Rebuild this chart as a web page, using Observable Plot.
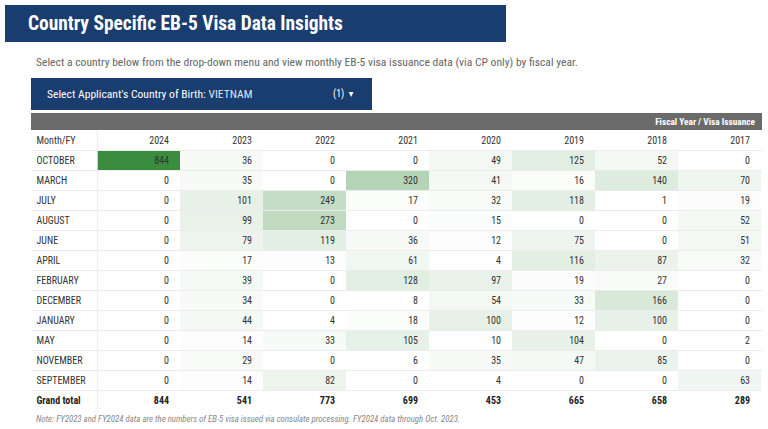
<!DOCTYPE html>
<html><head><meta charset="utf-8">
<script src="https://cdn.jsdelivr.net/npm/d3@7"></script>
<script src="https://cdn.jsdelivr.net/npm/@observablehq/plot@0.6"></script>
<style>
body{margin:0;background:#fff;width:768px;height:429px;overflow:hidden;position:relative;font-family:"Roboto Condensed","Liberation Sans Narrow","DejaVu Sans Condensed",Roboto,sans-serif;}
#title{position:absolute;left:5px;top:5px;width:501px;height:37px;background:#1a3d6f;color:#fff;font-weight:bold;font-size:19.4px;line-height:37px;padding-left:23px;box-sizing:border-box;white-space:nowrap}
#sub{position:absolute;left:36px;top:55px;font-size:11.6px;color:#666;white-space:nowrap}
#dd{position:absolute;left:31px;top:78px;width:341px;height:32px;background:#1a3d6f;color:#fff;font-size:11.6px;line-height:32px;box-sizing:border-box;padding-left:16px;white-space:nowrap}
#dd .v{color:#dfe6f0}
#dd .n{position:absolute;left:302px;top:0;font-size:10px}
#bar{position:absolute;left:31px;top:113px;width:731px;height:17px;background:#6b6b6b;color:#fff;font-weight:bold;font-size:9.3px;line-height:17px;text-align:right;padding-right:7px;box-sizing:border-box}
#chart{position:absolute;left:0;top:130px}
#note{position:absolute;left:36px;top:414px;font-size:8.8px;font-style:italic;color:#888;white-space:nowrap}
</style></head>
<body>
<div id="title">Country Specific EB-5 Visa Data Insights</div>
<div id="sub">Select a country below from the drop-down menu and view monthly EB-5 visa issuance data (via CP only) by fiscal year.</div>
<div id="dd">Select Applicant's Country of Birth: <span class="v">VIETNAM</span><span class="n">(1) &nbsp;▾</span></div>
<div id="bar">Fiscal Year / Visa Issuance</div>
<div id="chart"></div>
<div id="note">Note: FY2023 and FY2024 data are the numbers of EB-5 visa issued via consulate processing. FY2024 data through Oct. 2023.</div>
<script>
const years = ["2024","2023","2022","2021","2020","2019","2018","2017"];
const months = ["OCTOBER","MARCH","JULY","AUGUST","JUNE","APRIL","FEBRUARY","DECEMBER","JANUARY","MAY","NOVEMBER","SEPTEMBER"];
const v2024 = [844,0,0,0,0,0,0,0,0,0,0,0];
const v2023 = [36,35,101,99,79,17,39,34,44,14,29,14];
const v2022 = [0,0,249,273,119,13,0,0,4,33,0,82];
const v2021 = [0,320,17,0,36,61,128,8,18,105,6,0];
const v2020 = [49,41,32,15,12,4,97,54,100,10,35,4];
const v2019 = [125,16,118,0,75,116,19,33,12,104,47,0];
const v2018 = [52,140,1,0,0,87,27,166,100,0,85,0];
const v2017 = [0,70,19,52,51,32,0,0,0,2,0,63];
const totals = [844,541,773,699,453,665,658,289];
const headerLabel = "Month/FY";
const totalLabel = "Grand total";

const series = [v2024,v2023,v2022,v2021,v2020,v2019,v2018,v2017];
const cells = [];
years.forEach((y,i)=>months.forEach((m,j)=>cells.push({year:y, month:m, value:series[i][j]})));
const totRows = years.map((y,i)=>({year:y, month:totalLabel, value:totals[i]}));
const rows = [headerLabel, ...months, totalLabel];

const font = "Roboto Condensed, Liberation Sans Narrow, DejaVu Sans Condensed, Roboto, sans-serif";
const chart = Plot.plot({
  width: 768, height: 280,
  marginLeft: 95, marginRight: 6, marginTop: 0, marginBottom: 0,
  style: {fontFamily: font, fontSize: "10px", color: "#333", background: "transparent"},
  x: {type: "band", domain: years, padding: 0, axis: null},
  y: {type: "band", domain: rows, padding: 0, axis: null},
  color: {type: "linear", domain: [0, 844], range: ["#ffffff", "#3a8d3e"]},
  marks: [
    Plot.cell(cells, {x: "year", y: "month", fill: "value"}),
    Plot.ruleY(rows, {y: d => d, dy: 10, stroke: "#ececec", strokeWidth: 1, insetLeft: -64}),
    Plot.ruleX([years[0]], {x: d => d, dx: -41.7, stroke: "#ececec"}),
    Plot.text(rows.slice(0, -1), {y: d => d, text: d => d, frameAnchor: "left", dx: -59, textAnchor: "start", fill: "#333"}),
    Plot.text([totalLabel], {y: d => d, text: d => d, frameAnchor: "left", dx: -59, textAnchor: "start", fill: "#222", fontWeight: "bold"}),
    Plot.text(years, {x: d => d, y: () => headerLabel, text: d => d, textAnchor: "end", dx: 30, fill: "#333"}),
    Plot.text(cells, {x: "year", y: "month", text: d => String(d.value), textAnchor: "end", dx: 30, fill: "#333"}),
    Plot.text(totRows, {x: "year", y: "month", text: d => String(d.value), textAnchor: "end", dx: 30, fill: "#222", fontWeight: "bold"})
  ]
});
document.getElementById("chart").appendChild(chart);
</script>
</body></html>
